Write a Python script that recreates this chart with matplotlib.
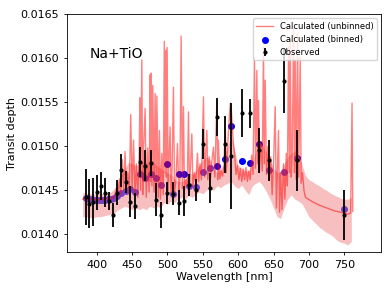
import numpy as np
import matplotlib
matplotlib.use('Agg')
import matplotlib.pyplot as plt

# unbinned model spectrum
model_wl = [380, 382, 384, 386, 388, 390, 392, 394, 396, 398, 400, 402, 404, 406, 408,
            410, 412, 414, 416, 418, 420, 422, 424, 426, 428, 430, 432, 434, 436, 438,
            440, 442, 444, 446, 448, 450, 452, 454, 456, 458, 460, 461, 462, 463.7, 465,
            466, 468.4, 470, 472, 474, 475.4, 476, 477, 478, 479.2, 481, 482.5, 484, 485,
            487, 488.6, 490, 492, 494, 495.5, 496.5, 497.6, 498.5, 499.5, 501, 502, 503.7,
            505, 506.5, 508.4, 510, 512, 514.1, 516, 517.5, 519.3, 521, 522.6, 524, 526,
            528, 529.7, 531, 532.5, 534.4, 536, 538, 540, 542.4, 544, 546, 548, 550.9,
            552.5, 554, 555.7, 557, 559, 561, 563, 565, 567, 569.8, 571, 572, 574, 576,
            578, 580, 581.6, 583, 585, 586.5, 588, 589, 590, 591.5, 593, 595, 597, 599,
            601, 603, 605, 607, 609, 611, 613, 615, 617, 619, 621, 623, 624.5, 626.4,
            627.5, 628.7, 630, 632, 634, 635.8, 636.8, 638.2, 640, 642, 644, 646, 648,
            650, 652.3, 654, 655.5, 657, 658.5, 660, 662, 664, 666, 668, 669.5, 671.2,
            672.5, 673.6, 675, 676.5, 678.3, 679.5, 680.6, 682, 684, 685.5, 687.7, 689,
            691, 693, 695, 705, 715, 725, 735, 745, 755, 759, 761, 762]
model_depth = [0.01440, 0.01441, 0.01440, 0.01439, 0.01441, 0.01440, 0.01439, 0.01440,
               0.01439, 0.01440, 0.01439, 0.01440, 0.01439, 0.01441, 0.01439, 0.01440,
               0.01439, 0.01441, 0.01440, 0.01441, 0.01440, 0.01442, 0.01441, 0.01446,
               0.01452, 0.01443, 0.01463, 0.01446, 0.01485, 0.01450, 0.01494, 0.01448,
               0.01470, 0.01445, 0.01536, 0.01452, 0.01507, 0.01446, 0.01480, 0.01442,
               0.01490, 0.01555, 0.01450, 0.01598, 0.01445, 0.01495, 0.01543, 0.01442,
               0.01498, 0.01448, 0.01581, 0.01460, 0.01583, 0.01455, 0.01569, 0.01448,
               0.01560, 0.01445, 0.01557, 0.01442, 0.01518, 0.01440, 0.01492, 0.01445,
               0.01619, 0.01470, 0.01609, 0.01465, 0.01612, 0.01450, 0.01480, 0.01522,
               0.01447, 0.01475, 0.01567, 0.01448, 0.01462, 0.01503, 0.01450, 0.01460,
               0.01625, 0.01452, 0.01545, 0.01450, 0.01462, 0.01455, 0.01539, 0.01458,
               0.01475, 0.01514, 0.01455, 0.01470, 0.01458, 0.01492, 0.01460, 0.01480,
               0.01462, 0.01556, 0.01465, 0.01490, 0.01518, 0.01462, 0.01488, 0.01465,
               0.01485, 0.01499, 0.01465, 0.01552, 0.01462, 0.01507, 0.01463, 0.01472,
               0.01466, 0.01478, 0.01533, 0.01470, 0.01500, 0.01520, 0.01540, 0.01549,
               0.01545, 0.01525, 0.01505, 0.01490, 0.01468, 0.01478, 0.01462, 0.01475,
               0.01460, 0.01474, 0.01462, 0.01476, 0.01460, 0.01472, 0.01462, 0.01490,
               0.01468, 0.01601, 0.01475, 0.01586, 0.01480, 0.01552, 0.01470, 0.01505,
               0.01472, 0.01612, 0.01480, 0.01575, 0.01468, 0.01500, 0.01462, 0.01488,
               0.01445, 0.01480, 0.01545, 0.01430, 0.01475, 0.01518, 0.01425, 0.01470,
               0.01428, 0.01480, 0.01440, 0.01492, 0.01455, 0.01613, 0.01470, 0.01620,
               0.01465, 0.01495, 0.01635, 0.01470, 0.01598, 0.01462, 0.01628, 0.01465,
               0.01601, 0.01458, 0.01470, 0.01450, 0.01442, 0.01437, 0.01433, 0.01430,
               0.01427, 0.01425, 0.01423, 0.01424, 0.01549, 0.01426]

# model uncertainty band
band_wl = [380, 385, 390, 395, 400, 405, 410, 415, 420, 425, 430, 435, 440, 445, 450,
           455, 460, 465, 470, 475, 480, 485, 490, 495, 500, 505, 510, 515, 520, 525,
           530, 535, 540, 545, 550, 555, 560, 565, 570, 575, 580, 585, 590, 595, 600,
           605, 610, 615, 620, 625, 630, 635, 640, 645, 650, 655, 660, 665, 670, 675,
           680, 685, 690, 695, 700, 705, 710, 715, 720, 725, 730, 735, 740, 745, 750,
           755, 760]
band_lo = [0.01420, 0.01420, 0.01419, 0.01419, 0.01420, 0.01420, 0.01421, 0.01422, 0.01423,
           0.01424, 0.01428, 0.01430, 0.01432, 0.01430, 0.01428, 0.01430, 0.01428, 0.01430,
           0.01428, 0.01432, 0.01430, 0.01432, 0.01430, 0.01436, 0.01434, 0.01438, 0.01436,
           0.01440, 0.01442, 0.01440, 0.01444, 0.01442, 0.01446, 0.01448, 0.01446, 0.01450,
           0.01452, 0.01450, 0.01455, 0.01453, 0.01456, 0.01458, 0.01460, 0.01455, 0.01452,
           0.01456, 0.01450, 0.01445, 0.01455, 0.01458, 0.01460, 0.01455, 0.01448, 0.01440,
           0.01430, 0.01420, 0.01418, 0.01430, 0.01440, 0.01445, 0.01440, 0.01438, 0.01435,
           0.01428, 0.01420, 0.01416, 0.01412, 0.01408, 0.01405, 0.01402, 0.01400, 0.01397,
           0.01393, 0.01391, 0.01390, 0.01388, 0.01392]
band_hi = [0.01447, 0.01447, 0.01446, 0.01446, 0.01446, 0.01446, 0.01447, 0.01447, 0.01448,
           0.01452, 0.01460, 0.01468, 0.01475, 0.01482, 0.01480, 0.01478, 0.01480, 0.01482,
           0.01480, 0.01485, 0.01482, 0.01478, 0.01475, 0.01472, 0.01470, 0.01468, 0.01462,
           0.01460, 0.01460, 0.01462, 0.01470, 0.01468, 0.01472, 0.01478, 0.01485, 0.01488,
           0.01485, 0.01475, 0.01470, 0.01475, 0.01480, 0.01500, 0.01512, 0.01495, 0.01478,
           0.01475, 0.01472, 0.01472, 0.01480, 0.01495, 0.01505, 0.01500, 0.01492, 0.01485,
           0.01475, 0.01470, 0.01472, 0.01480, 0.01488, 0.01492, 0.01495, 0.01490, 0.01480,
           0.01467, 0.01462, 0.01460, 0.01457, 0.01455, 0.01452, 0.01450, 0.01447, 0.01445,
           0.01443, 0.01441, 0.01440, 0.01440, 0.01442]

# binned model
bin_wl = [384.4, 388, 392, 396, 400, 404, 408, 412, 416, 420, 424, 429.2, 434.8, 441,
          447.6, 454.2, 461.3, 468.8, 476.4, 483.9, 491.4, 499.5, 508.4, 516.5, 523.5,
          531, 540.1, 550, 559.9, 570.3, 581.6, 590.1, 604.7, 617, 629.7, 643.4, 664.1,
          682.5, 750]
bin_depth = [0.01441, 0.01440, 0.01440, 0.01439, 0.01439, 0.01439, 0.01439, 0.01439,
             0.01440, 0.01440, 0.01441, 0.01444, 0.014465, 0.01449, 0.014513, 0.014482,
             0.01469, 0.014645, 0.01469, 0.014645, 0.01456, 0.014795, 0.014455, 0.014682,
             0.01469, 0.01455, 0.01454, 0.014708, 0.014753, 0.014773, 0.014852, 0.015227,
             0.014833, 0.01481, 0.01502, 0.014727, 0.014708, 0.01487, 0.014292]

# observed transit depths
obs_wl = [384.4, 389.5, 394.8, 400.0, 405.7, 411.3, 417.0, 422.6, 429.2, 434.8, 441.0,
          447.6, 454.2, 461.3, 468.8, 476.4, 483.9, 491.4, 499.5, 508.4, 516.5, 523.5,
          531.0, 540.1, 550.0, 559.9, 570.3, 581.6, 590.1, 604.7, 617.0, 629.7, 643.4,
          664.1, 682.5, 750.0]
obs_depth = [0.014424, 0.014349, 0.014364, 0.014477, 0.014549, 0.014474, 0.014379,
             0.01422, 0.014474, 0.014727, 0.014591, 0.014368, 0.014322, 0.014818, 0.01478,
             0.01481, 0.014394, 0.01422, 0.014474, 0.014463, 0.01436, 0.014379, 0.01456,
             0.014508, 0.01503, 0.01453, 0.015333, 0.01502, 0.014887, 0.015379, 0.015372,
             0.014952, 0.014839, 0.015739, 0.014839, 0.01422]
obs_err = [0.00032, 0.00028, 0.00027, 0.00020, 0.00016, 0.000165, 0.0001, 0.00014,
           0.00014, 0.00019, 0.000125, 0.000176, 0.000148, 0.00017, 0.000174, 0.00015,
           0.00019, 0.00015, 0.000125, 0.00013, 0.00014, 0.00017, 0.00013, 0.000125,
           0.00017, 0.00017, 0.00022, 0.00032, 0.0006, 0.00027, 0.00016, 0.00026,
           0.00023, 0.00036, 0.00035, 0.00028]

fig, ax = plt.subplots(figsize=(3.9, 2.93), dpi=100)
fig.subplots_adjust(left=0.172, right=0.977, bottom=0.14, top=0.952)

sc = ax.scatter(bin_wl, bin_depth, s=16, color='blue', label='Calculated (binned)', zorder=1)
ax.fill_between(band_wl, band_lo, band_hi, color='lightcoral', alpha=0.5, lw=0, zorder=1)
ln, = ax.plot(model_wl, model_depth, color='red', alpha=0.5, lw=1, label='Calculated (unbinned)')
eb = ax.errorbar(obs_wl, obs_depth, yerr=obs_err, fmt='o', color='black', ms=2,
                 elinewidth=1.3, label='Observed', zorder=3)

ax.text(0.071, 0.815, 'Na+TiO', transform=ax.transAxes, fontsize=10)
ax.set_xlim(358, 802)
ax.set_ylim(0.0138, 0.0165)
ax.set_yticks([0.0140, 0.0145, 0.0150, 0.0155, 0.0160, 0.0165])
ax.set_xticks([400, 450, 500, 550, 600, 650, 700, 750])
ax.tick_params(labelsize=8, length=2.5, width=0.6)
ax.set_xlabel('Wavelength [nm]', fontsize=8, labelpad=1)
ax.set_ylabel('Transit depth', fontsize=8, labelpad=2)
for s in ax.spines.values():
    s.set_linewidth(0.6)
ax.legend([ln, sc, eb], ['Calculated (unbinned)', 'Calculated (binned)', 'Observed'],
          loc='upper right', fontsize=6)

plt.savefig('out.png')
